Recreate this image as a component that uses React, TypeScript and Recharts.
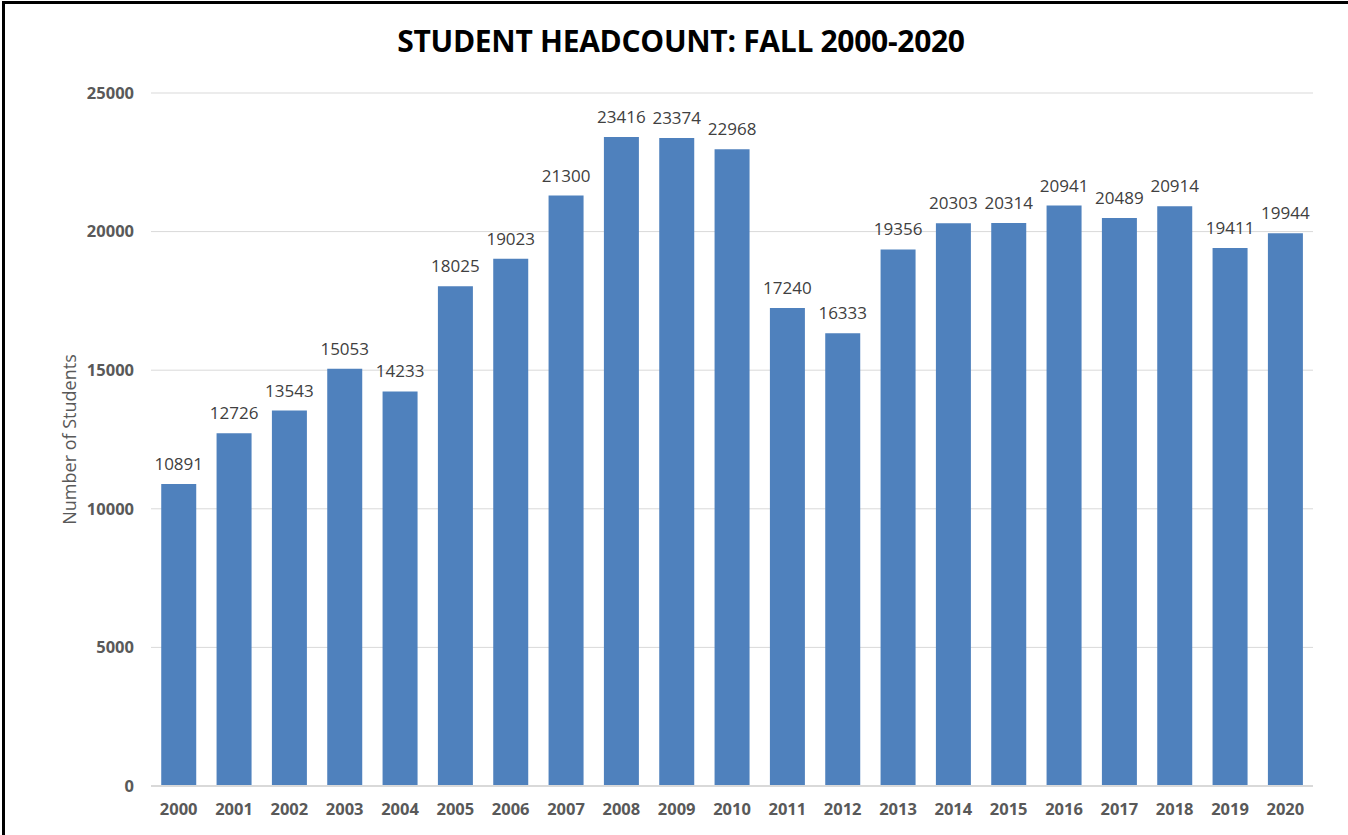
import React from "react";
import { BarChart, Bar, XAxis, YAxis, CartesianGrid, LabelList } from "recharts";

const years = ["2000","2001","2002","2003","2004","2005","2006","2007","2008","2009","2010","2011","2012","2013","2014","2015","2016","2017","2018","2019","2020"];
const headcount = [10891,12726,13543,15053,14233,18025,19023,21300,23416,23374,22968,17240,16333,19356,20303,20314,20941,20489,20914,19411,19944];
const yTicks = [0,5000,10000,15000,20000,25000];

const data = years.map((y, i) => ({ year: y, students: headcount[i] }));

const FONT = "'Open Sans', 'Noto Sans', sans-serif";

export default function App() {
  return (
    <div style={{ position: "absolute", left: 0, top: 0, width: 1348, height: 835, background: "#fff", overflow: "hidden", fontFamily: FONT }}>
      <div style={{ position: "absolute", left: 2, top: 1, width: 1346, height: 834, borderTop: "3px solid #000", borderLeft: "3px solid #000", boxSizing: "border-box" }} />
      <div style={{ position: "absolute", left: 681, top: 40, transform: "translate(-50%, -50%)", fontSize: 30, fontWeight: 700, color: "#000", whiteSpace: "nowrap", letterSpacing: -0.3 }}>
        STUDENT HEADCOUNT: FALL 2000-2020
      </div>
      <div style={{ position: "absolute", left: 0, top: 0 }}>
        <BarChart width={1348} height={835} data={data} margin={{ top: 93, right: 35, bottom: 19, left: 0 }} barCategoryGap="18.5%">
          <CartesianGrid vertical={false} stroke="#d9d9d9" strokeWidth={1} />
          <XAxis dataKey="year" axisLine={{ stroke: "#d9d9d9", strokeWidth: 2 }} tickLine={false} tickMargin={11}
            tick={{ fill: "#595959", fontSize: 16.5, fontWeight: 700, fontFamily: FONT }} interval={0} />
          <YAxis width={151} domain={[0, 25000]} ticks={yTicks} axisLine={false} tickLine={false} tickMargin={11}
            tick={{ fill: "#595959", fontSize: 16.5, fontWeight: 700, fontFamily: FONT }}
            label={{ value: "Number of Students", angle: -90, position: "center", dx: -6, fill: "#595959", fontSize: 18, fontFamily: FONT }} />
          <Bar dataKey="students" fill="#4F81BD" isAnimationActive={false}>
            <LabelList dataKey="students" position="top" offset={14} fill="#404040" fontSize={17} fontFamily={FONT} />
          </Bar>
        </BarChart>
      </div>
    </div>
  );
}
